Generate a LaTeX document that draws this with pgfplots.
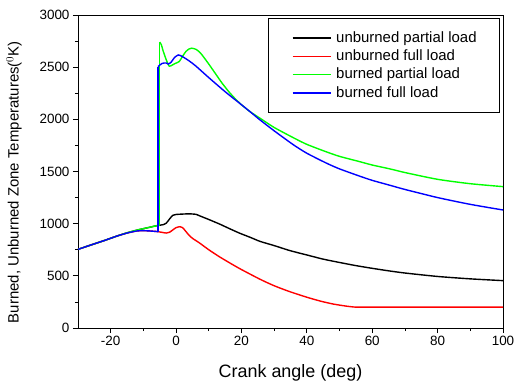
\documentclass[border=0pt]{standalone}
\usepackage{fontspec}
\setmainfont{Liberation Sans}
\usepackage{pgfplots}
\pgfplotsset{compat=1.18}
\definecolor{pgreen}{RGB}{0,255,0}
\begin{document}
\begin{tikzpicture}
\useasboundingbox (-78bp,-61bp) rectangle (437bp,328bp);
\begin{axis}[
  scale only axis,
  width=425bp, height=313bp,
  xmin=-30, xmax=100, ymin=0, ymax=3000,
  xtick={-20,0,...,100}, ytick={0,500,...,3000},
  minor x tick num=1, minor y tick num=1,
  xtick pos=bottom, ytick pos=left,
  tick align=outside,
  major tick length=5bp, minor tick length=3bp,
  axis line style={line width=0.9bp},
  every tick/.style={black, line width=0.8bp},
  /pgf/number format/assume math mode=true,
  /pgf/number format/1000 sep={},
  tick label style={font=\fontsize{13.5}{16}\selectfont},
  xlabel={Crank angle (deg)},
  ylabel={Burned, Unburned Zone Temperatures($^{0}$K)},
  xlabel style={font=\fontsize{18}{21}\selectfont, at={(axis description cs:0.5,-0.1438)}, anchor=center},
  ylabel style={font=\fontsize{15}{18}\selectfont, at={(axis description cs:-0.1506,0.466)}, anchor=center},
  legend style={at={(axis description cs:0.993,0.9895)}, anchor=north east,
    font=\fontsize{15}{18}\selectfont, draw=black, line width=0.8bp,
    inner xsep=23bp, inner ysep=12.5bp,
    nodes={inner sep=0pt, text height=11bp, text depth=3bp},
    row sep=4.3bp, column sep=5bp},
  legend cell align=left,
  legend image code/.code={\draw[#1, line width=1.4bp] (0bp,0bp) -- (38bp,0bp);},
  every axis plot/.append style={line width=1.4bp},
]
% unburned partial load
\addplot[black, smooth, tension=0.4] coordinates {
(-30,754) (-26,796) (-22,838) (-18,882) (-15,912) (-12,938) (-10,952) (-8,966) (-6,980) (-5,985)
(-4,990) (-3,1005) (-2,1045) (-1,1080) (0,1088) (2,1092) (4,1094) (6,1090) (7.3,1074) (10,1040)
(13.4,995) (16.5,950) (19.5,908) (22.6,870) (25.7,830) (30,790) (34.8,742) (40,700) (45,660)
(50,628) (55,598) (60,572) (65,548) (70,527) (80,494) (90,471) (100,454)};
\addlegendentry{unburned partial load}
% unburned full load
\addplot[red, smooth, tension=0.4] coordinates {
(-30,754) (-26,796) (-22,838) (-18,882) (-15,910) (-12,930) (-10,933) (-8,930) (-6,925) (-5.5,923)
(-4.5,918) (-3,910) (-2,918) (-1,940) (0,962) (1.2,971) (2,962) (3,925) (4,888) (5,860) (7.3,812)
(10,750) (13.4,680) (17.5,604) (20,560) (25.7,467) (30,405) (34.8,348) (40,295) (44,259)
(48,230) (52,210) (55,200) (60,200) (100,200)};
\addlegendentry{unburned full load}
% burned partial load
\addplot[pgreen, smooth, tension=0.4, forget plot] coordinates {
(-30,754) (-26,796) (-22,838) (-18,882) (-15,912) (-12,938) (-10,952) (-8,966) (-6,980) (-5,985)};
\addplot[pgreen, forget plot] coordinates {(-5,985) (-5,2740)};
\addplot[pgreen, smooth, tension=0.4] coordinates {
(-5,2740) (-4.5,2715) (-4,2660) (-3,2570) (-2.1,2510) (-1.2,2520) (-0.3,2535) (1,2555) (2,2605)
(3,2650) (4,2675) (4.8,2682) (6,2672) (7,2650) (8,2615) (10,2530) (12,2440) (14,2350) (16,2270)
(18,2200) (20,2140) (22.6,2074) (25.7,2010) (30,1922) (35.8,1825) (40,1760) (46,1688) (50,1645)
(56.2,1594) (60,1562) (65.4,1525) (70,1490) (80,1425) (90,1383) (100,1355)};
\addlegendentry{burned partial load}
% burned full load
\addplot[blue, smooth, tension=0.4, forget plot] coordinates {
(-30,754) (-26,796) (-22,838) (-18,882) (-15,910) (-12,930) (-10,933) (-8,930) (-6,925) (-5.5,923)};
\addplot[blue, forget plot] coordinates {(-5.5,923) (-5.5,2505)};
\addplot[blue, smooth, tension=0.4] coordinates {
(-5.5,2505) (-5,2520) (-4.2,2537) (-3,2540) (-2.4,2530) (-1.5,2548) (-0.5,2592) (0.7,2617)
(2,2600) (4,2560) (6,2512) (10,2400) (15,2265) (20,2140) (22.6,2074) (25.7,1994) (30,1890)
(35.8,1758) (40,1675) (46,1580) (50,1525) (56.2,1455) (60,1415) (65.4,1368) (70,1328)
(80,1250) (90,1185) (100,1131)};
\addlegendentry{burned full load}
\end{axis}
\end{tikzpicture}
\end{document}
